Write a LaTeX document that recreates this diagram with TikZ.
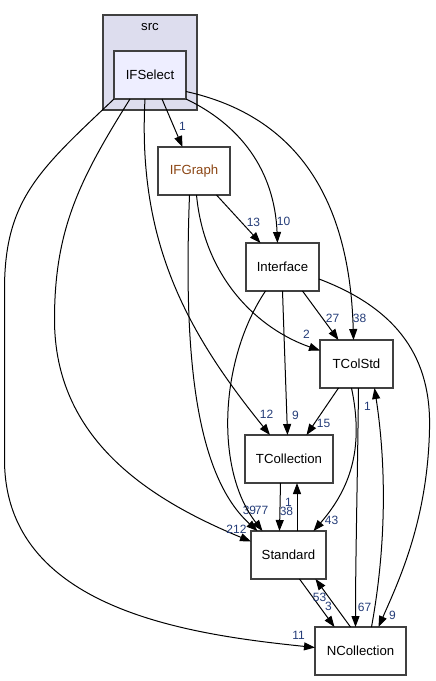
\documentclass[tikz,border=0pt]{standalone}
\usepackage{fontspec}
\setmainfont{Liberation Sans}
\usetikzlibrary{arrows.meta}

\definecolor{clusterfill}{RGB}{221,221,238}
\definecolor{selfill}{RGB}{238,238,255}
\definecolor{boxline}{RGB}{64,64,64}
\definecolor{numcolor}{RGB}{36,60,120}
\definecolor{subdir}{RGB}{140,70,20}

\begin{document}
\begin{tikzpicture}[x=1pt,y=-1pt,
    dirbox/.style={draw=boxline,line width=1.3pt,fill=white,inner sep=0pt,outer sep=0pt,
                   minimum height=48pt,font=\fontsize{13.2}{15}\selectfont},
    dep/.style={line width=1pt,-{Triangle[length=11pt,width=8pt]}},
    num/.style={text=numcolor,inner sep=0pt,font=\fontsize{12}{14}\selectfont}]
                        \useasboundingbox (0.5,0.5) rectangle (436.5,681.5);

                        % Drawing cluster src
                        \node[dirbox,fill=clusterfill,minimum width=94pt,minimum height=95pt] (src) at (150.5,63) {};
                        \node[inner sep=0pt,font=\fontsize{13.2}{15}\selectfont] (srcname) at (150.5,27.5) {src};

                        % Drawing directory boxes
                        \node[dirbox,fill=selfill,minimum width=72pt] (IFSelect) at (150.5,75.5) {IFSelect};
                        \node[dirbox,text=subdir,minimum width=72pt] (IFGraph) at (194.5,171.5) {IFGraph};
                        \node[dirbox,minimum width=73pt] (Interface) at (283,267.5) {Interface};
                        \node[dirbox,minimum width=73pt] (TColStd) at (357,364.5) {TColStd};
                        \node[dirbox,minimum width=88pt] (TCollection) at (289.5,459.5) {TCollection};
                        \node[dirbox,minimum width=75pt] (Standard) at (289,555.5) {Standard};
                        \node[dirbox,minimum width=91pt] (NCollection) at (361,651.5) {NCollection};

                        % Drawing edges from IFSelect
                        \draw[dep] ([xshift=12pt]IFSelect.south) -- ([xshift=-11.5pt]IFGraph.north);
                        \node[num] (nSelGraph) at (183,127) {1};
                        \draw[dep] (IFSelect.south east) .. controls (240,125) and (275,170) .. ([xshift=-5pt]Interface.north);
                        \node[num] (nSelIface) at (284,222) {10};
                        \draw[dep] ([yshift=-16.5pt]IFSelect.east) .. controls (290,115) and (350,190) .. ([xshift=-3pt]TColStd.north);
                        \node[num] (nSelColStd) at (360,319) {38};
                        \draw[dep] ([xshift=-5pt]IFSelect.south) .. controls (138,240) and (185,330) .. ([xshift=-19pt]TCollection.north);
                        \node[num] (nSelColl) at (267,415) {12};
                        \draw[dep] ([xshift=-20pt]IFSelect.south) .. controls (80,180) and (55,230) .. (55,320)
                            .. controls (55,440) and (150,500) .. ([yshift=13.5pt]Standard.west);
                        \node[num] (nSelStd) at (237,530) {212};
                        \draw[dep] (IFSelect.south west) .. controls (40,170) and (5,200) .. (5,290) -- (5,460)
                            .. controls (5,610) and (190,635) .. ([yshift=3.5pt]NCollection.west);
                        \node[num] (nSelNColl) at (299,636) {11};

                        % Drawing edges from IFGraph
                        \draw[dep] ([xshift=22.5pt]IFGraph.south) -- ([xshift=-22pt]Interface.north);
                        \node[num] (nGraphIface) at (254,223) {13};
                        \draw[dep] ([xshift=2.5pt]IFGraph.south) .. controls (205,280) and (260,330) .. ([yshift=13.5pt]TColStd.west);
                        \node[num] (nGraphColStd) at (307,335) {2};
                        \draw[dep] ([xshift=-4.5pt]IFGraph.south) .. controls (185,330) and (190,470) .. ([xshift=-31pt]Standard.north);
                        \node[num] (nGraphStd) at (250,511) {39};

                        % Drawing edges from Interface
                        \draw[dep] ([xshift=20pt]Interface.south) -- ([xshift=-18pt]TColStd.north);
                        \node[num] (nIfaceColStd) at (333,319) {27};
                        \draw[dep] (Interface.south) -- ([xshift=-1.5pt]TCollection.north);
                        \node[num] (nIfaceColl) at (296,416) {9};
                        \draw[dep] ([xshift=-17pt]Interface.south) .. controls (220,360) and (215,470) .. ([xshift=-26pt]Standard.north);
                        \node[num] (nIfaceStd) at (262,511) {77};
                        \draw[dep] ([yshift=-12pt]Interface.east) .. controls (400,310) and (432,360) .. (430,430)
                            .. controls (428,520) and (400,580) .. ([xshift=18pt]NCollection.north);
                        \node[num] (nIfaceNColl) at (393,616) {9};

                        % Drawing edges from TColStd
                        \draw[dep] ([xshift=-18pt]TColStd.south) -- ([xshift=17.5pt]TCollection.north);
                        \node[num] (nColStdColl) at (324,424) {15};
                        \draw[dep] ([xshift=-5pt]TColStd.south) .. controls (365,450) and (350,490) .. ([xshift=25pt]Standard.north);
                        \node[num] (nColStdStd) at (332,521) {43};
                        \draw[dep] ([xshift=2pt]TColStd.south) .. controls (358,480) and (356,560) .. ([xshift=-5pt]NCollection.north);
                        \node[num] (nColStdNColl) at (365,608) {67};

                        % Drawing edges between TCollection, Standard and NCollection
                        \draw[dep] ([xshift=-8.5pt]TCollection.south) -- ([xshift=-9pt]Standard.north);
                        \node[num] (nCollStd) at (287,512) {38};
                        \draw[dep] ([xshift=8.5pt]Standard.north) -- ([xshift=8pt]TCollection.south);
                        \node[num] (nStdColl) at (289,503) {1};
                        \draw[dep] ([xshift=11pt]Standard.south) -- ([xshift=-26pt]NCollection.north);
                        \node[num] (nStdNColl) at (320,598) {53};
                        \draw[dep] ([xshift=-10pt]NCollection.north) -- ([xshift=27pt]Standard.south);
                        \node[num] (nNCollStd) at (329,607) {3};
                        \draw[dep] ([xshift=11pt]NCollection.north) .. controls (388,540) and (386,460) .. ([xshift=18pt]TColStd.south);
                        \node[num] (nNCollColStd) at (368,407) {1};
\end{tikzpicture}
\end{document}
